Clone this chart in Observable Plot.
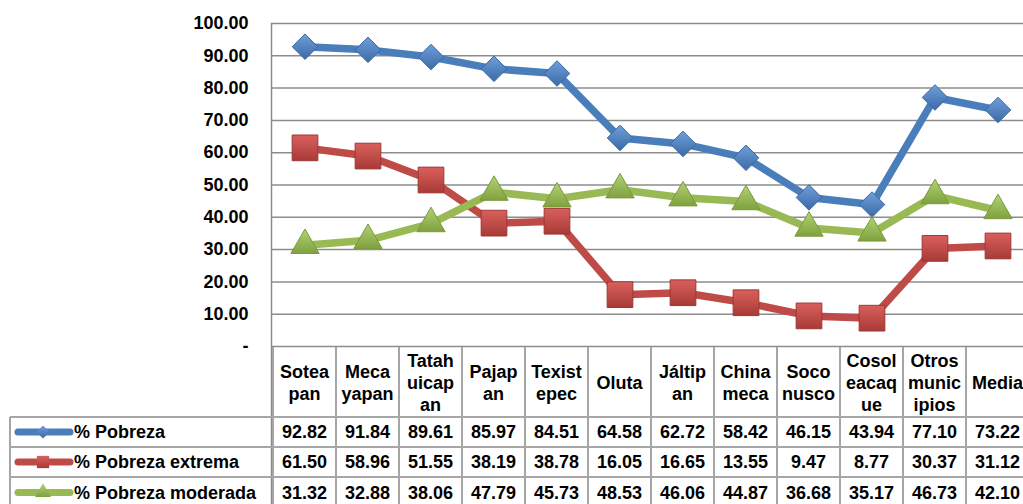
<!DOCTYPE html>
<html><head><meta charset="utf-8">
<script src="https://cdn.jsdelivr.net/npm/d3@7"></script>
<script src="https://cdn.jsdelivr.net/npm/@observablehq/plot@0.6"></script>
<style>
html,body{margin:0;padding:0;background:#fff;overflow:hidden;}
#chart{width:1023px;height:504px;overflow:hidden;position:relative;}
#chart svg{display:block;max-width:none !important;}
</style></head><body><div id="chart"></div>
<script>
const categories = ["Soteapan","Mecayapan","Tatahuicapan","Pajapan","Texistepec","Oluta","Jáltipan","Chinameca","Soconusco","Cosoleacaque","Otros municipios","Media"];
const headerLines = [["Sotea","pan"],["Meca","yapan"],["Tatah","uicap","an"],["Pajap","an"],["Texist","epec"],["Oluta"],["Jáltip","an"],["China","meca"],["Soco","nusco"],["Cosol","eacaq","ue"],["Otros","munic","ipios"],["Media"]];
const seriesNames = ["% Pobreza","% Pobreza extrema","% Pobreza moderada"];
const pobreza  = [92.82,91.84,89.61,85.97,84.51,64.58,62.72,58.42,46.15,43.94,77.10,73.22];
const extrema  = [61.50,58.96,51.55,38.19,38.78,16.05,16.65,13.55,9.47,8.77,30.37,31.12];
const moderada = [31.32,32.88,38.06,47.79,45.73,48.53,46.06,44.87,36.68,35.17,46.73,42.10];
const yTicks = [0,10,20,30,40,50,60,70,80,90,100];

const seriesValues = [pobreza, extrema, moderada];
const colors = ["#4a7ebb","#be4b48","#98b954"];
const strokes = ["#3a67a0","#9c3734","#7a9a3c"];
const symbols = ["diamond2","square","triangle"];
const radii = [11.5,14.5,10.5];
const gradTop = ["#6f9fdc","#d9605c","#b2d274"];
const gradBot = ["#3b6aa5","#a83a36","#7fa13e"];

const rows = [];
seriesValues.forEach((vals, s) => vals.forEach((v, i) => rows.push({serie: seriesNames[s], cat: categories[i], v})));

const W = 1040;
const FONT = "'Liberation Sans', Arial, sans-serif";
const plot = Plot.plot({
  width: W, height: 504,
  marginLeft: 271, marginRight: W - 1031.8, marginTop: 23, marginBottom: 158,
  x: {type: "band", domain: categories, padding: 0, axis: null},
  y: {domain: [0, 100], ticks: yTicks, tickFormat: d => d === 0 ? "-" : d.toFixed(2), tickSize: 0, tickPadding: 23, label: null},
  style: {fontFamily: FONT, fontSize: "18px", fontWeight: "bold", color: "#000", background: "#fff", overflow: "visible", maxWidth: "none"},
  marks: [
    Plot.ruleY(yTicks, {y: d => d, stroke: "#8c8c8c", strokeWidth: 1.5}),
    ...seriesNames.map((name, s) => Plot.line(rows.filter(r => r.serie === name), {x: "cat", y: "v", stroke: colors[s], strokeWidth: 7.5, strokeLinejoin: "round", strokeLinecap: "round"})),
    ...seriesNames.map((name, s) => Plot.dot(rows.filter(r => r.serie === name), {x: "cat", y: "v", symbol: symbols[s], r: radii[s], fill: colors[s], stroke: strokes[s], strokeWidth: 1}))
  ]
});

document.getElementById("chart").appendChild(plot);
const svg = d3.select(plot);
const defs = svg.insert("defs", ":first-child");
seriesNames.forEach((n, s) => {
  const g = defs.append("linearGradient").attr("id", "grad" + s).attr("x1", 0).attr("y1", 0).attr("x2", 0).attr("y2", 1);
  g.append("stop").attr("offset", "0%").attr("stop-color", gradTop[s]);
  g.append("stop").attr("offset", "100%").attr("stop-color", gradBot[s]);
});
svg.selectAll('g[aria-label="dot"]').each(function(d, s) {
  d3.select(this).selectAll("path").attr("fill", "url(#grad" + s + ")");
  d3.select(this).attr("fill", "url(#grad" + s + ")");
});

const xs = plot.scale("x");
const ys = plot.scale("y");
const bw = xs.bandwidth;
const cx = c => xs.apply(c) + bw / 2;
const x0 = xs.apply(categories[0]);
const xEnd = xs.apply(categories[categories.length - 1]) + bw;
const yZero = ys.apply(0);
const yTop = ys.apply(100);
const rowY = [417, 447, 477, 508];
const headerTop = yZero;

const t = svg.append("g").attr("font-family", FONT).attr("font-size", 18).attr("font-weight", "bold").attr("fill", "#000");
const border = "#a6a6a6";
t.append("line").attr("x1", x0 - 1.5).attr("x2", x0 - 1.5).attr("y1", yTop).attr("y2", 508).attr("stroke", "#8c8c8c").attr("stroke-width", 1.5);
categories.forEach(c => {
  t.append("line").attr("x1", xs.apply(c)).attr("x2", xs.apply(c)).attr("y1", headerTop + 1).attr("y2", 508).attr("stroke", border).attr("stroke-width", 2);
});
t.append("line").attr("x1", xEnd).attr("x2", xEnd).attr("y1", headerTop + 1).attr("y2", 508).attr("stroke", border).attr("stroke-width", 2);
rowY.slice(0, 3).forEach(y => t.append("line").attr("x1", 10).attr("x2", xEnd).attr("y1", y).attr("y2", y).attr("stroke", border).attr("stroke-width", 2));
t.append("line").attr("x1", 10).attr("x2", 10).attr("y1", rowY[0]).attr("y2", 508).attr("stroke", border).attr("stroke-width", 2);

categories.forEach((c, i) => {
  const lines = headerLines[i];
  const lh = 22;
  const mid = (headerTop + rowY[0]) / 2 + 1;
  lines.forEach((ln, k) => {
    t.append("text").attr("x", cx(c)).attr("y", mid + (k - (lines.length - 1) / 2) * lh).attr("text-anchor", "middle").attr("dominant-baseline", "central").text(ln);
  });
});
seriesNames.forEach((name, s) => {
  const yc = (rowY[s] + rowY[s + 1]) / 2;
  t.append("line").attr("x1", 18).attr("x2", 70).attr("y1", yc).attr("y2", yc).attr("stroke", colors[s]).attr("stroke-width", 7).attr("stroke-linecap", "round");
  t.append("path").attr("d", d3.symbol(s === 0 ? d3.symbolDiamond2 : s === 1 ? d3.symbolSquare : d3.symbolTriangle, s === 1 ? 150 : 110)()).attr("transform", `translate(43,${yc})`).attr("fill", "url(#grad" + s + ")");
  t.append("text").attr("x", 74).attr("y", yc).attr("text-anchor", "start").attr("dominant-baseline", "central").text(name);
  seriesValues[s].forEach((v, i) => {
    t.append("text").attr("x", cx(categories[i])).attr("y", yc).attr("text-anchor", "middle").attr("dominant-baseline", "central").text(v.toFixed(2));
  });
});
</script></body></html>
